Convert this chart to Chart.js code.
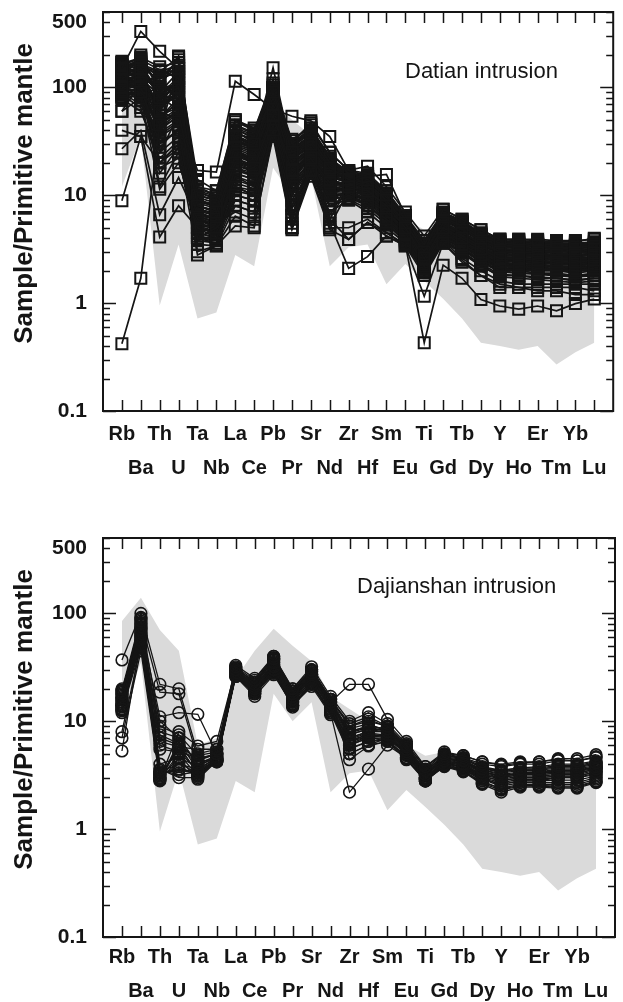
<!DOCTYPE html>
<html>
<head>
<meta charset="utf-8">
<script src="https://cdn.jsdelivr.net/npm/chart.js@4.4.1/dist/chart.umd.min.js"></script>
<style>
html,body{margin:0;padding:0;background:#fff;}
#wrap{position:relative;width:623px;height:1002px;overflow:hidden;}
canvas{position:absolute;left:0;display:block;}
</style>
</head>
<body>
<div id="wrap">
<canvas id="c1" width="623" height="501" style="top:0"></canvas>
<canvas id="c2" width="623" height="501" style="top:501px"></canvas>
</div>
<script>
// ---------- categories & tick labels ----------
const elements = ['Rb','Ba','Th','U','Ta','Nb','La','Ce','Pb','Pr','Sr','Nd','Zr','Hf','Sm','Eu','Ti','Gd','Tb','Dy','Y','Ho','Er','Tm','Yb','Lu'];
const yTickLabels = [0.1, 1, 10, 100, 500];
const yTitle = 'Sample/Primitive mantle';
const titleTop = 'Datian intrusion';
const titleBottom = 'Dajianshan intrusion';

// ---------- grey reference field ----------
const fieldHigh = [85, 140, 70, 45, 6, 7, 25, 45, 72, 50, 36, 17, 13, 10, 7.5, 6, 4.8, 5.2, 4.6, 3.8, 3.3, 3.2, 3.1, 2.9, 2.8, 2.6];
const fieldLow  = [12, 35, 0.95, 3.5, 0.72, 0.82, 2.8, 2.2, 18, 10, 15, 2.2, 3.3, 3.5, 1.5, 2.3, 1.6, 1.1, 0.72, 0.43, 0.4, 0.37, 0.4, 0.27, 0.35, 0.43];

// ---------- Datian intrusion samples ----------
const datian01 = [0.42, 1.7, 45, 60, 8, 7, 20, 18, 55, 17, 22, 13, 12, 11, 8, 5, 2.6, 5, 4, 3.2, 2.6, 2.6, 2.5, 2.4, 2.4, 2.5];
const datian02 = [150, 330, 216, 150, 10, 9, 35, 30, 90, 25, 30, 18, 14, 13, 9, 5.5, 3, 5.5, 4.5, 3.6, 3, 3, 2.9, 2.8, 2.8, 2.9];
const datian03 = [100, 90, 60, 50, 17, 16.4, 114, 86, 63, 54, 49, 35, 17, 15, 15.6, 6.5, 3, 7.4, 6, 4.8, 3.9, 3.9, 3.8, 3.7, 3.7, 4.0];
const datian04 = [120, 150, 80, 100, 8, 7, 40, 30, 152, 25, 35, 18, 14, 12, 9, 5, 2.8, 5.5, 4.5, 3.5, 3, 2.9, 2.8, 2.8, 2.7, 2.8];
const datian05 = [90, 100, 30, 40, 4, 4, 10, 9, 40, 6, 17, 6, 3.9, 5.6, 4.5, 3.5, 0.43, 2.25, 1.7, 1.08, 0.94, 0.88, 0.94, 0.85, 0.99, 1.09];
const datian06 = [60, 110, 20, 30, 4, 5, 8, 7, 45, 5, 20, 5.5, 2.1, 2.7, 4.2, 3.4, 1.16, 3.6, 2.5, 1.8, 1.5, 1.4, 1.3, 1.3, 1.2, 1.2];
const datian07 = [8.9, 35, 4.1, 8, 5, 4, 12, 10, 40, 8, 20, 8, 10, 8, 6, 4.5, 2.2, 4.5, 3.5, 2.8, 2.2, 2.2, 2.1, 2, 2, 2.1];
const datian08 = [27, 40, 6.6, 14.6, 6, 5, 15, 12, 45, 10, 22, 9, 11, 9, 7, 4.8, 2.4, 4.8, 3.8, 3, 2.5, 2.4, 2.3, 2.2, 2.2, 2.3];
const datian09 = [40, 35, 20, 27, 5, 4.5, 18, 15, 35, 12, 18, 10, 12, 10, 7, 4.5, 2.3, 4.6, 3.7, 2.9, 2.4, 2.3, 2.2, 2.2, 2.1, 2.2];
const datian10 = [60, 80, 11.4, 20, 5.5, 5, 25, 20, 50, 16, 26, 13, 13, 11, 8, 5, 2.5, 5, 4, 3.1, 2.6, 2.5, 2.4, 2.3, 2.3, 2.4];
const datian11 = [170, 180, 146, 120, 12, 10, 45, 38, 95, 30, 40, 22, 16, 15, 10, 6, 3.5, 6.5, 5.5, 4.2, 3.6, 3.5, 3.4, 3.3, 3.3, 3.4];
const datian12 = [160, 150, 120, 180, 11, 9, 40, 35, 100, 28, 38, 20, 15, 14, 9.5, 6, 3.2, 6.2, 5.2, 4, 3.4, 3.4, 3.3, 3.2, 3.2, 3.3];
const datian13 = [140, 130, 100, 195, 9, 8, 38, 32, 80, 26, 35, 19, 15, 13, 9, 5.6, 3, 6, 5, 3.8, 3.2, 3.1, 3, 3, 3, 3.1];
const datian14 = [130, 160, 90, 140, 8, 7, 30, 26, 85, 22, 30, 17, 14, 12, 8.5, 5.2, 2.9, 5.5, 4.6, 3.5, 3, 2.9, 2.8, 2.8, 2.7, 2.8];
const datian15 = [125, 120, 70, 90, 7, 6, 28, 24, 70, 20, 28, 16, 13, 12, 8, 5, 2.7, 5.2, 4.3, 3.3, 2.8, 2.7, 2.7, 2.6, 2.6, 2.6];
const datian16 = [115, 110, 60, 110, 6.5, 6, 26, 22, 75, 19, 27, 15, 13, 11, 8, 4.8, 2.6, 5, 4.1, 3.2, 2.7, 2.6, 2.6, 2.5, 2.5, 2.5];
const datian17 = [110, 140, 50, 75, 7.5, 6.5, 22, 19, 60, 17, 25, 14, 12, 11, 7.5, 4.7, 2.5, 4.8, 4, 3.1, 2.6, 2.5, 2.5, 2.4, 2.4, 2.4];
const datian18 = [105, 100, 45, 60, 6, 5.5, 20, 17, 65, 15, 24, 13, 12, 10, 7, 4.5, 2.4, 4.6, 3.8, 3, 2.5, 2.4, 2.4, 2.3, 2.3, 2.3];
const datian19 = [100, 90, 40, 55, 5.5, 5, 18, 16, 55, 14, 22, 12, 11, 10, 7, 4.4, 2.3, 4.5, 3.7, 2.9, 2.4, 2.3, 2.3, 2.2, 2.2, 2.2];
const datian20 = [95, 125, 35, 45, 5, 4.5, 15, 13, 50, 12, 20, 11, 11, 9, 6.5, 4.2, 2.2, 4.3, 3.5, 2.7, 2.2, 2.2, 2.1, 2.1, 2.1, 2.1];
const datian21 = [90, 85, 30, 40, 4.5, 4, 12, 11, 45, 10, 18, 10, 10, 8.5, 6, 4, 2.1, 4.1, 3.3, 2.5, 2.1, 2, 2, 2, 1.9, 2];
const datian22 = [85, 80, 25, 35, 4, 3.8, 10, 9, 40, 8, 17, 9, 10, 8, 5.6, 3.8, 2, 3.9, 3.1, 2.4, 2, 1.9, 1.9, 1.8, 1.8, 1.8];
const datian23 = [80, 95, 20, 30, 3.5, 3.4, 8, 7, 38, 6.5, 16, 7, 9, 7, 5, 3.6, 1.9, 3.7, 2.9, 2.2, 1.8, 1.8, 1.7, 1.7, 1.6, 1.7];
const datian24 = [150, 170, 110, 160, 10, 9, 35, 30, 90, 27, 36, 20, 16, 14, 10, 6.2, 3.3, 6.8, 5.6, 4.3, 3.7, 3.6, 3.5, 3.5, 3.4, 3.5];
const datian25 = [135, 145, 85, 125, 9, 8, 33, 28, 78, 24, 33, 18, 15, 13, 9, 5.8, 3.1, 6, 5, 3.9, 3.3, 3.2, 3.1, 3.1, 3, 3.1];
const datian26 = [120, 105, 65, 85, 8, 7, 27, 23, 68, 21, 29, 16, 14, 12, 8.5, 5.4, 2.8, 5.3, 4.4, 3.4, 2.9, 2.8, 2.7, 2.7, 2.6, 2.7];
const datian27 = [112, 130, 55, 70, 7, 6, 24, 20, 62, 18, 26, 15, 13, 11, 8, 5, 2.6, 5, 4.2, 3.2, 2.7, 2.6, 2.6, 2.5, 2.5, 2.5];
const datian28 = [108, 115, 48, 65, 6.5, 6.2, 21, 18, 58, 16, 25, 14, 12.5, 10.5, 7.5, 4.8, 2.5, 4.8, 3.9, 3, 2.5, 2.5, 2.4, 2.4, 2.3, 2.4];
const datian29 = [98, 75, 38, 50, 5.8, 5.2, 17, 15, 52, 13, 21, 12, 11.5, 9.5, 7, 4.5, 2.4, 4.5, 3.6, 2.8, 2.3, 2.3, 2.2, 2.2, 2.1, 2.2];
const datian30 = [92, 88, 28, 42, 5.2, 4.6, 14, 12, 48, 11, 19, 10.5, 10.5, 9, 6.5, 4.2, 2.2, 4.2, 3.4, 2.6, 2.2, 2.1, 2.1, 2, 2, 2];
const datian31 = [175, 160, 130, 150, 12, 11, 48, 40, 110, 32, 45, 25, 17, 16, 11, 6.5, 3.8, 7, 5.8, 4.5, 3.9, 3.8, 3.7, 3.6, 3.6, 3.7];
const datian32 = [145, 125, 95, 100, 9.5, 8.5, 36, 30, 85, 25, 34, 19, 15, 13.5, 9.5, 5.9, 3.2, 6.2, 5.1, 4, 3.4, 3.3, 3.2, 3.2, 3.1, 3.2];
const datian33 = [128, 110, 75, 80, 8.5, 7.5, 30, 26, 72, 22, 31, 17, 14, 12.5, 8.8, 5.5, 3, 5.6, 4.6, 3.6, 3, 3, 2.9, 2.8, 2.8, 2.9];
const datian34 = [118, 95, 42, 58, 3, 3.4, 6.4, 5.2, 35, 4.8, 15, 4.8, 3.9, 5.6, 4.2, 3.4, 1.8, 3.6, 2.4, 1.8, 1.4, 1.4, 1.4, 1.4, 1.4, 1.3];
const datian35 = [102, 135, 12, 25, 2.8, 3.4, 5.2, 5, 38, 5, 16, 5, 5, 6, 4.5, 3.4, 2, 3.8, 2.6, 2, 1.6, 1.5, 1.5, 1.5, 1.5, 1.5];
const datian36 = [165, 190, 155, 170, 14, 11, 50, 40, 120, 30, 47, 25, 17, 18.6, 12, 7, 4.2, 7.4, 6, 4.8, 3.9, 3.9, 3.9, 3.8, 3.8, 3.9];
const datian37 = [130, 100, 40, 150, 6, 5, 9, 8, 60, 5.5, 25, 6, 12, 11, 7, 4.5, 2.4, 4.6, 3.8, 3, 2.5, 2.4, 2.4, 2.3, 2.3, 2.4];
const datian38 = [110, 120, 85, 60, 7, 6, 12, 10, 45, 6.5, 20, 6.5, 13, 12, 7.5, 4.8, 2.5, 4.8, 4, 3.1, 2.6, 2.5, 2.5, 2.4, 2.4, 2.5];
const datian39 = [155, 140, 65, 130, 5, 4.5, 26, 21, 100, 20, 40, 15, 15, 14, 9, 5.5, 2.9, 5.8, 4.8, 3.7, 3.1, 3, 3, 2.9, 2.9, 3];
const datian40 = [125, 200, 90, 70, 9, 8, 42, 33, 70, 28, 28, 20, 16, 13, 10, 6, 3.2, 6.4, 5.3, 4.1, 3.5, 3.4, 3.3, 3.3, 3.2, 3.3];
const datian41 = [95, 105, 25, 55, 4, 3.6, 16, 14, 42, 13, 24, 11, 12, 10, 6.5, 4.3, 2.2, 4.2, 3.4, 2.6, 2.1, 2.1, 2, 2, 2, 2];
const datian42 = [140, 85, 100, 90, 6.5, 5.5, 35, 28, 95, 24, 37, 18, 13, 12, 8.5, 5.3, 2.7, 5.4, 4.4, 3.4, 2.9, 2.8, 2.8, 2.7, 2.7, 2.8];
const datian43 = [85, 65, 18, 22, 4.5, 4, 22, 18, 40, 16, 21, 13, 10, 9, 7, 4.4, 2.3, 4.3, 3.5, 2.7, 2.2, 2.2, 2.1, 2.1, 2, 2.1];
const datian44 = [120, 165, 140, 160, 10, 9, 50, 42, 85, 33, 42, 23, 15, 15, 11, 6.2, 3.4, 6.6, 5.4, 4.2, 3.6, 3.5, 3.5, 3.4, 3.4, 3.5];
const datian45 = [105, 115, 70, 100, 6, 5.5, 7, 6, 55, 5, 18, 5.2, 11, 10, 6.5, 4.2, 2.3, 4.2, 3.2, 2.5, 2, 2, 1.9, 1.9, 1.8, 1.9];
const datian46 = [160, 130, 110, 75, 8, 7, 32, 27, 80, 23, 32, 17, 14, 13, 9, 5.6, 3.1, 5.9, 4.9, 3.8, 3.2, 3.1, 3.1, 3, 3, 3.1];
const datian47 = [135, 175, 75, 115, 7.5, 6.8, 29, 25, 88, 21, 30, 16, 14.5, 12.5, 8.6, 5.3, 2.9, 5.4, 4.5, 3.5, 3, 2.9, 2.9, 2.8, 2.8, 2.9];
const datian48 = [100, 150, 55, 65, 6.2, 5.8, 19, 17, 58, 15.5, 24, 13.5, 12, 10.5, 7.6, 4.9, 2.6, 4.9, 3.9, 3, 2.5, 2.45, 2.4, 2.35, 2.3, 2.35];
const datian49 = [145, 120, 120, 140, 9, 8.2, 34, 29, 92, 26, 36, 19.5, 15.5, 14, 9.8, 6, 3.3, 6.3, 5.2, 4.1, 3.5, 3.45, 3.4, 3.35, 3.3, 3.4];
const datian50 = [88, 70, 32, 38, 5, 4.4, 13, 11.5, 44, 10.5, 19, 10, 10.5, 8.8, 6.2, 4, 2.1, 4, 3.2, 2.4, 1.95, 1.9, 1.85, 1.8, 1.75, 1.8];
const datian51 = [170, 155, 140, 190, 11.5, 10, 44, 37, 105, 30, 42, 22, 16.5, 15.5, 10.5, 6.4, 3.6, 6.9, 5.7, 4.4, 3.8, 3.7, 3.6, 3.6, 3.5, 3.6];
const datian52 = [115, 92, 52, 80, 6.8, 6, 23, 20, 66, 18, 27, 15, 13, 11.5, 8, 5, 2.7, 5.1, 4.2, 3.2, 2.7, 2.65, 2.6, 2.55, 2.5, 2.55];
const datian53 = [78, 60, 22, 32, 4.2, 3.9, 11, 10, 42, 9, 17, 9.5, 9.5, 8, 5.8, 3.9, 2, 3.8, 3, 2.3, 1.85, 1.8, 1.75, 1.7, 1.65, 1.7];
const datian54 = [150, 185, 100, 105, 10.5, 9.5, 38, 33, 98, 28, 39, 21, 16, 14.5, 10, 6.1, 3.4, 6.6, 5.4, 4.2, 3.6, 3.55, 3.5, 3.45, 3.4, 3.45];
const datian55 = [122, 138, 62, 95, 7.2, 6.4, 25, 21, 72, 19, 28, 15.5, 13.5, 11.8, 8.3, 5.1, 2.75, 5.2, 4.3, 3.3, 2.8, 2.75, 2.7, 2.65, 2.6, 2.65];
const datian56 = [96, 112, 36, 48, 5.4, 4.8, 16, 14, 50, 12.5, 21, 11.5, 11, 9.2, 6.8, 4.3, 2.3, 4.4, 3.5, 2.7, 2.25, 2.2, 2.15, 2.1, 2.05, 2.1];
const datian57 = [160, 165, 125, 135, 11, 9.8, 42, 36, 100, 29, 40, 21.5, 16, 15, 10.2, 6.3, 3.5, 6.7, 5.5, 4.3, 3.7, 3.6, 3.55, 3.5, 3.45, 3.55];
const datian58 = [108, 128, 46, 62, 6.3, 5.7, 21, 18, 60, 16, 25, 13.8, 12.3, 10.8, 7.7, 4.8, 2.5, 4.8, 3.95, 3.05, 2.55, 2.5, 2.45, 2.4, 2.35, 2.4];
const datian59 = [132, 98, 80, 120, 8, 7.2, 31, 27, 82, 23, 32, 17.5, 14.5, 12.8, 9.2, 5.7, 3.05, 5.8, 4.8, 3.7, 3.15, 3.1, 3.05, 3, 2.95, 3];
const datian60 = [82, 90, 16, 28, 3.8, 3.6, 9, 8, 36, 7.5, 16, 8, 9.2, 7.5, 5.4, 3.7, 1.95, 3.8, 3, 2.25, 1.75, 1.7, 1.65, 1.6, 1.55, 1.6];
const datian61 = [140, 145, 92, 110, 8.8, 7.8, 32, 28, 84, 25, 34, 18.5, 15, 13.2, 9.4, 5.8, 3.15, 6.1, 5, 3.9, 3.3, 3.25, 3.2, 3.15, 3.1, 3.2];
const datian62 = [103, 82, 43, 52, 5.9, 5.3, 19, 16.5, 54, 14.5, 23, 12.5, 11.8, 10, 7.2, 4.6, 2.4, 4.6, 3.7, 2.85, 2.35, 2.3, 2.25, 2.2, 2.15, 2.2];

// ---------- Dajianshan intrusion samples ----------
const dajian01 = [37, 100, 22, 20, 5, 5.5, 32, 24, 40, 20, 30, 16, 9, 10, 9, 6, 3.8, 5, 4.8, 4.2, 4, 4.2, 4.2, 4.5, 4.5, 4.9];
const dajian02 = [18, 85, 18.6, 18, 4.5, 5, 30, 22, 38, 19, 28, 15, 8, 9, 8.5, 5.8, 3.5, 4.8, 4.6, 4, 3.8, 4, 4, 4.3, 4.3, 4.6];
const dajian03 = [15, 75, 11, 12, 11.6, 5, 29, 21, 35, 18, 27, 15, 22, 22, 10.4, 6.5, 3.8, 5.2, 4.8, 4.2, 3.9, 4.1, 4.2, 4.4, 4.3, 4.7];
const dajian04 = [13, 70, 8, 7, 4, 4.5, 28, 20, 32, 17, 26, 14, 7, 8, 8, 5.5, 3.2, 4.5, 4.3, 3.6, 3.4, 3.6, 3.6, 3.8, 3.8, 4.1];
const dajian05 = [20, 65, 6, 5.2, 3.5, 4.2, 27, 19, 30, 16, 25, 13.5, 6, 7, 7.5, 5.2, 3, 4.3, 4, 3.4, 3.1, 3.3, 3.3, 3.5, 3.5, 3.8];
const dajian06 = [16, 60, 3.6, 3, 3, 4.3, 29, 21, 33, 17, 27, 14, 5, 6, 7, 5, 2.9, 4.2, 3.9, 3.2, 3, 3.2, 3.2, 3.3, 3.3, 3.6];
const dajian07 = [14, 55, 3.2, 5.5, 4.2, 4.5, 30, 22, 36, 18, 29, 15, 4.4, 5.9, 6.5, 4.8, 2.9, 4, 3.8, 3.1, 2.8, 3, 3, 3.1, 3.1, 3.4];
const dajian08 = [8, 50, 3, 6, 3.2, 4.4, 27, 18, 28, 14, 22, 12, 2.2, 3.6, 6, 4.6, 2.8, 3.9, 3.6, 2.9, 2.6, 2.8, 2.8, 3, 3, 3.2];
const dajian09 = [7, 45, 2.8, 6.5, 3.5, 4.6, 28, 19, 30, 15, 24, 13, 5.5, 6.5, 7, 5, 3, 4.1, 3.8, 3, 2.7, 2.9, 2.9, 3, 3, 3.3];
const dajian10 = [5.3, 60, 2.9, 8, 5.9, 6.5, 31, 23, 38, 19, 30, 16, 8, 9, 8.5, 5.7, 3.3, 4.6, 4.3, 3.5, 3.2, 3.4, 3.4, 3.6, 3.6, 3.9];
const dajian11 = [17, 90, 9, 7.5, 4.8, 5.2, 33, 25, 40, 20, 32, 17, 10, 12, 9.5, 6.2, 3.6, 5, 4.6, 3.8, 3.5, 3.7, 3.8, 4, 4, 4.3];
const dajian12 = [19, 80, 7, 6, 4.4, 5, 26, 17, 27, 14, 21, 11.5, 6.5, 7.5, 7.2, 5.2, 3, 4.2, 3.9, 3.1, 2.8, 3, 3, 3.1, 3.1, 3.4];
const dajian13 = [14.5, 68, 3.3, 3.5, 3.3, 4.2, 26, 18, 28, 14, 22, 12, 6, 7, 6.8, 4.6, 2.8, 3.9, 3.5, 2.7, 2.4, 2.6, 2.6, 2.6, 2.6, 2.9];
const dajian14 = [12, 58, 3.1, 4.5, 2.9, 4.3, 27, 18, 29, 13.5, 23, 12, 5, 6, 6.5, 4.4, 2.8, 3.8, 3.4, 2.6, 2.2, 2.45, 2.45, 2.4, 2.4, 2.7];
const dajian15 = [15, 62, 6.5, 5.8, 5.5, 5.5, 28, 20, 31, 16, 26, 14, 7.5, 8.5, 7.8, 5.4, 3.1, 4.4, 4.1, 3.3, 3, 3.2, 3.2, 3.3, 3.3, 3.6];
const dajian16 = [13.5, 52, 10, 7, 4, 4.8, 29, 20, 33, 16.5, 27, 14.5, 8.5, 9.5, 8, 5.5, 3.2, 4.5, 4.2, 3.4, 3.1, 3.3, 3.3, 3.4, 3.4, 3.7];
const dajian17 = [16, 78, 3.4, 4, 3.6, 4.6, 30, 22, 37, 18, 29, 15.5, 7, 8, 8.2, 5.6, 3.3, 4.7, 4.4, 3.5, 3.3, 3.5, 3.5, 3.7, 3.7, 4];
const dajian18 = [13, 72, 2.9, 5, 3.1, 4.4, 27, 19, 30, 15, 24, 13, 6.8, 7.8, 7.4, 5, 2.9, 4.1, 3.7, 2.9, 2.5, 2.7, 2.7, 2.7, 2.7, 3];
const dajian19 = [18.5, 88, 3.5, 3.2, 3.4, 4.5, 31, 23, 39, 19, 30, 16, 9.5, 11, 9, 6, 3.4, 4.9, 4.5, 3.7, 3.4, 3.6, 3.6, 3.8, 3.8, 4.1];
const dajian20 = [12.5, 48, 5.5, 5.2, 4.6, 4.8, 28, 20, 32, 16, 26, 14, 6.5, 7.2, 7.6, 5.3, 3, 4.3, 4, 3.2, 2.9, 3.1, 3.1, 3.2, 3.2, 3.5];
const dajian21 = [17.5, 82, 3.3, 3.6, 3.4, 4.4, 30, 21, 35, 17.5, 28, 15, 7.5, 8.5, 8.3, 5.6, 3.2, 4.6, 4.3, 3.4, 3.1, 3.3, 3.4, 3.5, 3.5, 3.8];
const dajian22 = [14, 66, 3, 4.2, 3.2, 4.3, 27, 19, 29, 14.5, 23, 12.5, 6.2, 7.2, 7.1, 4.9, 2.85, 4, 3.6, 2.8, 2.35, 2.55, 2.55, 2.5, 2.5, 2.8];
const dajian23 = [16.5, 74, 7.5, 6.2, 4.3, 5, 29, 21, 34, 17, 27, 14.5, 7.8, 8.8, 8.1, 5.5, 3.15, 4.5, 4.2, 3.4, 3.1, 3.3, 3.3, 3.45, 3.45, 3.75];
const dajian24 = [13.8, 63, 3.2, 3.8, 3.1, 4.3, 28, 19.5, 31, 15.5, 25, 13, 6.6, 7.6, 7.3, 5, 2.9, 4.1, 3.75, 2.95, 2.6, 2.8, 2.8, 2.85, 2.85, 3.1];
const dajian25 = [19.5, 92, 4, 4.6, 3.8, 4.7, 31, 23, 38, 19, 30, 16, 9, 10.5, 8.8, 5.9, 3.4, 4.8, 4.5, 3.7, 3.5, 3.7, 3.7, 3.9, 3.9, 4.2];
const dajian26 = [12.8, 56, 2.85, 5.8, 3.3, 4.4, 27, 18.5, 29, 14, 22.5, 12, 5.6, 6.5, 6.7, 4.5, 2.8, 3.85, 3.45, 2.65, 2.3, 2.5, 2.5, 2.45, 2.45, 2.75];

const datianSet = [datian01, datian02, datian03, datian04, datian05, datian06, datian07, datian08, datian09, datian10, datian11, datian12, datian13, datian14, datian15, datian16, datian17, datian18, datian19, datian20, datian21, datian22, datian23, datian24, datian25, datian26, datian27, datian28, datian29, datian30, datian31, datian32, datian33, datian34, datian35, datian36, datian37, datian38, datian39, datian40, datian41, datian42, datian43, datian44, datian45, datian46, datian47, datian48, datian49, datian50, datian51, datian52, datian53, datian54, datian55, datian56, datian57, datian58, datian59, datian60, datian61, datian62];
const dajianSet = [dajian01, dajian02, dajian03, dajian04, dajian05, dajian06, dajian07, dajian08, dajian09, dajian10, dajian11, dajian12, dajian13, dajian14, dajian15, dajian16, dajian17, dajian18, dajian19, dajian20, dajian21, dajian22, dajian23, dajian24, dajian25, dajian26];

[fieldHigh, fieldLow, ...datianSet, ...dajianSet].forEach((a, k) => {
  if (a.length !== elements.length) throw new Error('array ' + k + ' has length ' + a.length);
});

// ---------- rendering ----------
const FONT = "'Liberation Sans', Arial, Helvetica, sans-serif";
const INK = '#151515';
Chart.defaults.font.family = FONT;
Chart.defaults.color = INK;

const toPts = arr => arr.map((v, i) => ({x: i, y: v}));

const frameTicks = {
  id: 'frameTicks',
  afterDatasetsDraw(chart, args, opts) {
    const {ctx, chartArea: a, scales: {x, y}} = chart;
    ctx.save();
    ctx.strokeStyle = INK;
    ctx.lineWidth = 1.5;
    ctx.beginPath();
    for (let i = 0; i < elements.length; i++) {
      const px = Math.round(x.getPixelForValue(i)) + 0.5;
      ctx.moveTo(px, a.bottom); ctx.lineTo(px, a.bottom - 11);
      ctx.moveTo(px, a.top); ctx.lineTo(px, a.top + 11);
    }
    for (let e = -1; e <= 2; e++) {
      for (let m = 1; m <= 9; m++) {
        const v = m * Math.pow(10, e);
        if (v > y.max * 1.0001) continue;
        const py = Math.round(y.getPixelForValue(v)) + 0.5;
        const len = m === 1 ? 13 : 7;
        ctx.moveTo(a.left, py); ctx.lineTo(a.left + len, py);
        ctx.moveTo(a.right, py); ctx.lineTo(a.right - len, py);
      }
    }
    ctx.stroke();
    ctx.lineWidth = 2;
    ctx.strokeRect(a.left, a.top, a.right - a.left, a.bottom - a.top);
    // annotation text
    ctx.fillStyle = INK;
    ctx.font = '22px ' + FONT;
    ctx.textAlign = 'left';
    ctx.textBaseline = 'middle';
    ctx.fillText(opts.text, a.left + opts.dx, a.top + opts.dy);
    ctx.restore();
  }
};

function makeChart(canvasId, set, style, radius, cfg) {
  const datasets = [
    {data: toPts(fieldLow), borderWidth: 0, pointRadius: 0, fill: false, order: 100},
    {data: toPts(fieldHigh), borderWidth: 0, pointRadius: 0, fill: '-1', backgroundColor: '#dadada', order: 99}
  ];
  set.forEach(s => datasets.push({
    data: toPts(s),
    borderColor: INK,
    borderWidth: cfg.lineW,
    pointStyle: style,
    pointRadius: radius,
    pointBorderWidth: cfg.markW,
    pointBorderColor: INK,
    pointBackgroundColor: 'rgba(255,255,255,0)',
    fill: false,
    tension: 0,
    order: 1
  }));
  return new Chart(document.getElementById(canvasId), {
    type: 'line',
    data: {datasets},
    plugins: [frameTicks],
    options: {
      responsive: false,
      maintainAspectRatio: false,
      animation: false,
      events: [],
      layout: {padding: {left: 0, right: 8, top: cfg.top, bottom: 0}},
      plugins: {
        legend: {display: false},
        tooltip: {enabled: false},
        frameTicks: {text: cfg.text, dx: cfg.dx, dy: cfg.dy}
      },
      scales: {
        x: {
          type: 'linear', min: -1, max: elements.length,
          grid: {display: false, drawTicks: false},
          border: {display: false},
          ticks: {
            stepSize: 1, autoSkip: false, maxRotation: 0, minRotation: 0,
            padding: cfg.labelPad, color: INK,
            font: {size: 20, weight: 'bold', lineHeight: 1.7},
            callback: v => {
              const i = Math.round(v);
              if (Math.abs(v - i) > 1e-6 || i < 0 || i >= elements.length) return '';
              return i % 2 === 0 ? [elements[i], ''] : ['', elements[i]];
            }
          },
          afterFit: s => { s.height = cfg.xHeight; s.paddingLeft = 0; s.paddingRight = 0; }
        },
        y: {
          type: 'logarithmic', min: yTickLabels[0], max: yTickLabels[yTickLabels.length - 1],
          grid: {display: false, drawTicks: false},
          border: {display: false},
          ticks: {
            autoSkip: false, padding: 16, color: INK,
            font: {size: 21, weight: 'bold', lineHeight: 0.95},
            callback: v => {
              const t = yTickLabels.find(l => Math.abs(l - v) / l < 1e-6);
              if (t === undefined) return '';
              return t === yTickLabels[yTickLabels.length - 1] ? ['', String(t)] : String(t);
            }
          },
          title: {
            display: true, text: '\u00a0\u00a0\u00a0\u00a0\u00a0' + yTitle, color: INK,
            font: {size: 26, weight: 'bold', lineHeight: 1.2},
            padding: {top: 9, bottom: 0}
          },
          afterFit: s => { s.width = 103; s.paddingTop = 0; s.paddingBottom = 0; }
        }
      }
    }
  });
}

makeChart('c1', datianSet, 'rect', 7.8, {top: 12, xHeight: 90, labelPad: 6, text: titleTop, dx: 302, dy: 60, lineW: 1.7, markW: 2});
makeChart('c2', dajianSet, 'circle', 5.8, {top: 37, xHeight: 65, labelPad: 3, text: titleBottom, dx: 254, dy: 49, lineW: 1.3, markW: 1.6});
</script>
</body>
</html>
